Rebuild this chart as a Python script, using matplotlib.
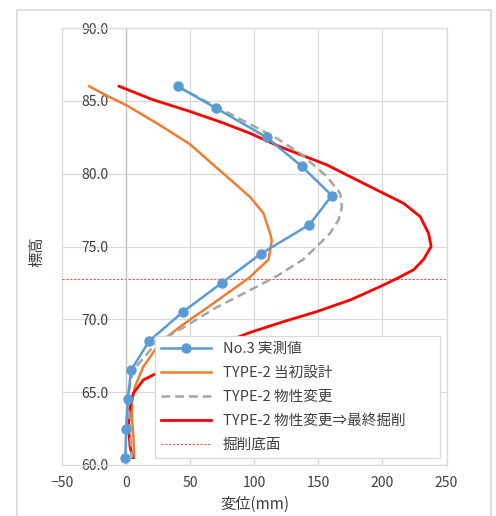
import numpy as np
import matplotlib
matplotlib.use("Agg")
import matplotlib.pyplot as plt
from matplotlib.patches import Rectangle

plt.rcParams["font.family"] = ["Noto Sans CJK JP", "DejaVu Sans"]

# ── Data ──────────────────────────────────────────────────────────────────
# No.3 measured
meas_x = [40, 70, 109.5, 137, 160.5, 143, 105, 74.5, 44, 17.7, 3.7, 1.1, -0.2, -0.8]
meas_y = [86.0, 84.5, 82.5, 80.5, 78.5, 76.5, 74.5, 72.5, 70.5, 68.5, 66.5, 64.5, 62.5, 60.5]

# TYPE-2 initial design
init_x = [-29, -14, 0, 25, 50, 70.6, 85, 96.6, 107, 112.3, 113.6, 111, 100, 96.6,
          68, 42, 26.3, 13.3, 6.8, 4.2, 4.6, 5.5, 6.2]
init_y = [86.0, 85.3, 84.7, 83.4, 82.0, 80.4, 79.3, 78.4, 77.3, 75.9, 75.4, 74.1, 73.2, 72.9,
          71.1, 69.5, 68.4, 66.75, 65.4, 64.3, 63.0, 61.95, 60.5]

# TYPE-2 property change
prop_x = [40, 70, 96.6, 118, 135.7, 156.6, 167, 168.3, 165.6, 159, 148.7, 138,
          118, 96.6, 70, 45.8, 23.7, 5.3, 1.6, 2.5, 3.5, 4.5]
prop_y = [86.0, 84.6, 83.4, 82.4, 81.4, 79.8, 78.65, 77.7, 76.8, 75.9, 75.0, 74.1,
          73.0, 72.0, 70.8, 69.5, 68.4, 66.5, 64.9, 63.0, 61.5, 60.5]

# TYPE-2 property change -> final excavation
final_x = [-5.7, 20, 50, 75, 96.6, 120, 156.6, 182.6, 200.8, 216.4, 229.5, 236, 238,
           232, 224.3, 211.2, 198.2, 174.8, 148.7, 122.7, 96.6, 70, 45, 23.7, 13.3,
           5.5, 2.9, 1.6, 2.9, 5.0]
final_y = [86.0, 85.1, 84.26, 83.5, 82.77, 81.85, 80.6, 79.45, 78.65, 77.97, 77.05, 75.9, 75.0,
           74.1, 73.4, 72.8, 72.25, 71.33, 70.53, 69.84, 69.1, 68.2, 67.3, 66.3, 65.84,
           64.93, 64.0, 62.64, 61.26, 60.5]

excav_level = 72.75

labels = ["No.3 実測値", "TYPE-2 当初設計", "TYPE-2 物性変更",
          "TYPE-2 物性変更⇒最終掘削", "掘削底面"]

x_ticks = [-50, 0, 50, 100, 150, 200, 250]
y_ticks = [60, 65, 70, 75, 80, 85, 90]

# ── Figure ────────────────────────────────────────────────────────────────
fig = plt.figure(figsize=(4.96, 5.16), dpi=100)
fig.patches.append(Rectangle((17 / 496, -0.1), (491 - 17) / 496, 1.1 - 10 / 516,
                             transform=fig.transFigure, fill=False,
                             edgecolor="#d9d9d9", linewidth=1.2))

ax = fig.add_axes([62.3 / 496, 1 - 465 / 516, (446.5 - 62.3) / 496, (465 - 28) / 516])

ax.plot(meas_x, meas_y, "-o", color="#5B9BD5", linewidth=1.8, markersize=6.5,
        label=labels[0], zorder=5)
ax.plot(init_x, init_y, "-", color="#ED7D31", linewidth=1.8, label=labels[1], zorder=3)
ax.plot(prop_x, prop_y, "--", color="#A5A5A5", linewidth=1.8, dashes=(3.5, 2),
        label=labels[2], zorder=4)
ax.plot(final_x, final_y, "-", color="#FF0000", linewidth=2.0, label=labels[3], zorder=3)
ax.axhline(excav_level, color="#E0565B", linewidth=0.8, linestyle=(0, (2, 1.5)),
           label=labels[4], zorder=2)

ax.set_xlim(-50, 250)
ax.set_ylim(60, 90)
ax.set_xticks(x_ticks)
ax.set_yticks(y_ticks)
ax.set_yticklabels([f"{v:.1f}" for v in y_ticks])
ax.tick_params(length=0, labelsize=10, colors="#404040")
ax.tick_params(axis="x", pad=8)
ax.tick_params(axis="y", pad=13)
ax.grid(color="#d9d9d9", linewidth=0.9, zorder=0)
ax.set_axisbelow(True)
for sp in ax.spines.values():
    sp.set_color("#d9d9d9")
    sp.set_linewidth(0.9)
# value axis crosses at x = 0, labels sit just left of it
ax.spines["left"].set_position(("data", 0))
ax.spines["left"].set_color("#bfbfbf")
ax.axvline(-50, color="#d9d9d9", linewidth=1.2, zorder=0)

ax.set_xlabel("変位(mm)", fontsize=11, color="#404040", labelpad=4)
ax.set_ylabel("標高", fontsize=11, color="#404040")
ax.yaxis.set_label_coords(-0.045, 0.487)

leg = ax.legend(loc="lower left", bbox_to_anchor=(0.241, 0.0153, 0.742, 0.267),
                mode="expand", borderaxespad=0, fontsize=10.5,
                frameon=True, fancybox=False, framealpha=1, edgecolor="#d9d9d9",
                handlelength=3.4, labelspacing=0.68, borderpad=0.45)
leg.get_frame().set_linewidth(0.9)
for t in leg.get_texts():
    t.set_color("#404040")

fig.savefig("out.png", dpi=100)
